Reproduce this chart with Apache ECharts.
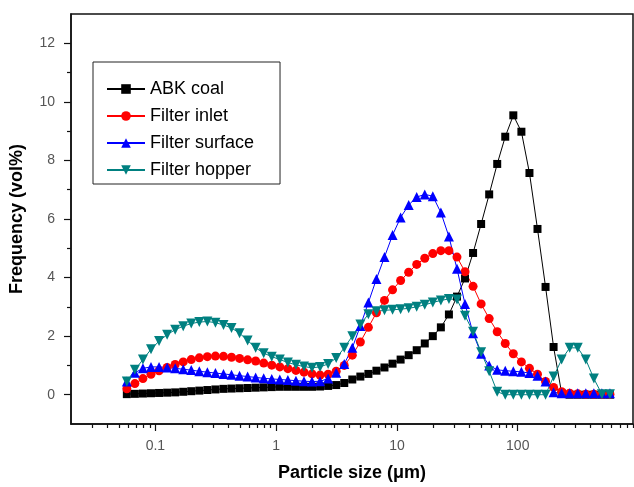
<!DOCTYPE html>
<html>
<head>
<meta charset="utf-8">
<script src="https://cdn.jsdelivr.net/npm/echarts@6/dist/echarts.min.js"></script>
<style>
    html, body { margin: 0; padding: 0; background: #fff; }
    #chart { width: 634px; height: 487px; }
</style>
</head>
<body>
<div id="chart"></div>
<script>
// particle size bins (um)
const sizes = [0.058, 0.0676, 0.0788, 0.0919, 0.1072, 0.125, 0.1457, 0.1699, 0.198, 0.2309,
    0.2692, 0.3139, 0.366, 0.4267, 0.4975, 0.58, 0.676, 0.788, 0.919, 1.072,
    1.25, 1.457, 1.699, 1.98, 2.309, 2.692, 3.139, 3.66, 4.267, 4.975,
    5.8, 6.76, 7.88, 9.19, 10.72, 12.5, 14.57, 16.99, 19.8, 23.09,
    26.92, 31.39, 36.6, 42.67, 49.75, 58, 67.6, 78.8, 91.9, 107.2,
    125, 145.7, 169.9, 198, 230.9, 269.2, 313.9, 366, 426.7, 497.5, 580];

const abkCoal = [0.02, 0.03, 0.04, 0.05, 0.06, 0.07, 0.08, 0.10, 0.12, 0.14,
    0.16, 0.18, 0.20, 0.21, 0.22, 0.23, 0.24, 0.25, 0.26, 0.27,
    0.27, 0.27, 0.27, 0.27, 0.28, 0.30, 0.33, 0.40, 0.52, 0.62,
    0.71, 0.82, 0.93, 1.06, 1.20, 1.35, 1.52, 1.75, 2.0, 2.3,
    2.74, 3.35, 3.97, 4.84, 5.83, 6.84, 7.88, 8.81, 9.54, 8.98,
    7.57, 5.66, 3.68, 1.63, 0.05, 0, 0, 0, 0, 0, 0];

const filterInlet = [0.20, 0.38, 0.55, 0.70, 0.82, 0.93, 1.03, 1.12, 1.20, 1.26,
    1.30, 1.32, 1.31, 1.28, 1.24, 1.19, 1.15, 1.08, 1.01, 0.95,
    0.89, 0.83, 0.77, 0.71, 0.67, 0.70, 0.80, 1.0, 1.35, 1.80,
    2.30, 2.80, 3.22, 3.58, 3.90, 4.18, 4.45, 4.66, 4.82, 4.92,
    4.92, 4.70, 4.20, 3.70, 3.10, 2.60, 2.15, 1.75, 1.40, 1.12,
    0.90, 0.70, 0.45, 0.25, 0.10, 0.05, 0.03, 0.02, 0.02, 0.02, 0.02];

const filterSurface = [0.45, 0.75, 0.90, 0.95, 0.95, 0.93, 0.90, 0.87, 0.84, 0.80,
    0.77, 0.74, 0.71, 0.68, 0.65, 0.62, 0.59, 0.56, 0.54, 0.52,
    0.50, 0.48, 0.46, 0.45, 0.46, 0.55, 0.75, 1.05, 1.6, 2.35,
    3.15, 3.95, 4.7, 5.45, 6.05, 6.48, 6.75, 6.84, 6.78, 6.22,
    5.4, 4.3, 3.1, 2.1, 1.4, 1.0, 0.85, 0.82, 0.8, 0.78,
    0.74, 0.65, 0.45, 0.08, 0.05, 0.05, 0.05, 0.05, 0.05, 0.05, 0.05];

const filterHopper = [0.45, 0.85, 1.2, 1.55, 1.83, 2.05, 2.22, 2.34, 2.43, 2.48,
    2.5, 2.46, 2.38, 2.28, 2.1, 1.85, 1.6, 1.42, 1.3, 1.2,
    1.1, 1.02, 0.96, 0.92, 0.95, 1.05, 1.25, 1.6, 2.0, 2.4,
    2.75, 2.85, 2.88, 2.9, 2.92, 2.95, 3.0, 3.07, 3.15, 3.22,
    3.27, 3.25, 2.7, 2.15, 1.45, 0.8, 0.1, 0, 0, 0,
    0, 0, 0, 0.62, 1.2, 1.6, 1.6, 1.2, 0.55, 0.02, 0.02];

// axis ticks
const xMajor = [0.1, 1, 10, 100];
const xMajorLabels = ['0.1', '1', '10', '100'];
const xMinor = [0.03, 0.04, 0.05, 0.06, 0.07, 0.08, 0.09,
    0.2, 0.3, 0.4, 0.5, 0.6, 0.7, 0.8, 0.9,
    2, 3, 4, 5, 6, 7, 8, 9,
    20, 30, 40, 50, 60, 70, 80, 90,
    200, 300, 400, 500, 600, 700, 800, 900];
const yMajor = [0, 2, 4, 6, 8, 10, 12];
const yMinor = [1, 3, 5, 7, 9, 11];
const xMin = 0.02;
const xMax = 900;

const font = '"Liberation Sans", Arial, sans-serif';
const lg = (v) => Math.log10(v);

function toPoints(values) {
    return values.map((v, i) => [lg(sizes[i]), v]);
}

const chart = echarts.init(document.getElementById('chart'), null, {renderer: 'canvas'});

const option = {
    animation: false,
    backgroundColor: '#fff',
    textStyle: {fontFamily: font},
    grid: {
        left: 71,
        right: 1,
        top: 14,
        bottom: 59,
        show: true,
        borderColor: '#111',
        borderWidth: 1.5,
    },
    legend: {
        orient: 'vertical',
        left: 93,
        top: 62,
        padding: [18, 26, 5, 13],
        itemGap: 9,
        itemWidth: 38,
        itemHeight: 12,
        borderColor: '#222',
        borderWidth: 1,
        backgroundColor: '#fff',
        textStyle: {fontFamily: font, fontSize: 18, color: '#000'},
        data: ['ABK coal', 'Filter inlet', 'Filter surface', 'Filter hopper'],
    },
    xAxis: [
        {
            type: 'value',
            min: lg(xMin),
            max: lg(xMax),
            name: 'Particle size (\u03bcm)',
            nameLocation: 'middle',
            nameGap: 40,
            nameTextStyle: {fontFamily: font, fontSize: 18, fontWeight: 'bold', color: '#000'},
            splitLine: {show: false},
            axisLine: {show: true, onZero: false, lineStyle: {color: '#111', width: 1.5}},
            axisTick: {
                show: true, inside: false, length: 7,
                lineStyle: {color: '#111', width: 1.2},
                customValues: xMajor.map(lg),
            },
            axisLabel: {
                margin: 15,
                fontSize: 14,
                color: '#555',
                customValues: xMajor.map(lg),
                formatter: (v) => xMajorLabels[Math.round(v) + 1],
            },
        },
        {
            type: 'value',
            min: lg(xMin),
            max: lg(xMax),
            position: 'bottom',
            splitLine: {show: false},
            axisLine: {show: false, onZero: false},
            axisTick: {
                show: true, inside: false, length: 4,
                lineStyle: {color: '#111', width: 1.2},
                customValues: xMinor.map(lg),
            },
            axisLabel: {show: false},
        },
    ],
    yAxis: [
        {
            type: 'value',
            min: -1,
            max: 13,
            name: 'Frequency (vol%)',
            nameLocation: 'middle',
            nameGap: 45,
            nameTextStyle: {fontFamily: font, fontSize: 18, fontWeight: 'bold', color: '#000'},
            splitLine: {show: false},
            axisLine: {show: true, onZero: false, lineStyle: {color: '#111', width: 1.5}},
            axisTick: {
                show: true, inside: false, length: 7,
                lineStyle: {color: '#111', width: 1.2},
                customValues: yMajor,
            },
            axisLabel: {
                margin: 16,
                fontSize: 14,
                color: '#555',
                customValues: yMajor,
            },
        },
        {
            type: 'value',
            min: -1,
            max: 13,
            position: 'left',
            splitLine: {show: false},
            axisLine: {show: false, onZero: false},
            axisTick: {
                show: true, inside: false, length: 4,
                lineStyle: {color: '#111', width: 1.2},
                customValues: yMinor,
            },
            axisLabel: {show: false},
        },
    ],
    series: [
        {
            name: 'ABK coal',
            type: 'line',
            data: toPoints(abkCoal),
            symbol: 'rect',
            symbolSize: 8,
            color: '#000000',
            lineStyle: {width: 1, color: '#000000'},
        },
        {
            name: 'Filter inlet',
            type: 'line',
            data: toPoints(filterInlet),
            symbol: 'circle',
            symbolSize: 9,
            color: '#ff0000',
            lineStyle: {width: 1, color: '#ff0000'},
        },
        {
            name: 'Filter surface',
            type: 'line',
            data: toPoints(filterSurface),
            symbol: 'triangle',
            symbolSize: 10,
            color: '#0000ff',
            lineStyle: {width: 1, color: '#0000ff'},
        },
        {
            name: 'Filter hopper',
            type: 'line',
            data: toPoints(filterHopper),
            symbol: 'triangle',
            symbolRotate: 180,
            symbolSize: 10,
            color: '#008080',
            lineStyle: {width: 1, color: '#008080'},
        },
    ],
};

chart.setOption(option);
</script>
</body>
</html>
